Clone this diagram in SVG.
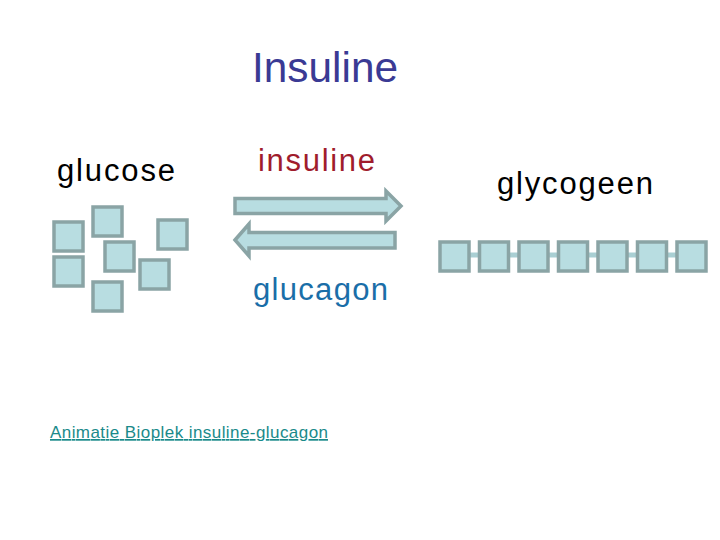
<svg xmlns="http://www.w3.org/2000/svg" width="720" height="540" viewBox="0 0 720 540">
<style>
text{font-family:"Liberation Sans",Arial,sans-serif}
.sq{fill:#b8dde1;stroke:#8aa4a5;stroke-width:3.5}
.arr{fill:#b8dde1;stroke:#8aa4a5;stroke-width:3.5;stroke-linejoin:miter}
.lbl{font-size:31px;fill:#000}
</style>
<defs>
<rect id="s" class="sq" width="29" height="29"/>
</defs>
<rect width="720" height="540" fill="#fff"/>
<g id="title"><text x="252" y="82" font-size="42" fill="#3a3a94" textLength="146" lengthAdjust="spacingAndGlyphs">Insuline</text></g>
<g id="glucose">
<text class="lbl" x="57" y="181" textLength="118" lengthAdjust="spacing">glucose</text>
<use href="#s" x="54" y="222"/>
<use href="#s" x="93" y="207"/>
<use href="#s" x="158" y="220"/>
<use href="#s" x="105" y="242"/>
<use href="#s" x="54" y="257"/>
<use href="#s" x="140" y="260"/>
<use href="#s" x="93" y="282"/>
</g>
<g id="connectors">
<polygon class="arr" points="235,198.5 386,198.5 386,191 401,206 386,221 386,213.5 235,213.5"/>
<polygon class="arr" points="235,240 249,224 249,232.5 395,232.5 395,248 249,248 249,256"/>
<text x="258" y="171" font-size="31" fill="#a01c2c" textLength="117" lengthAdjust="spacing">insuline</text>
<text x="253" y="300" font-size="31" fill="#1a6ea8" textLength="135" lengthAdjust="spacing">glucagon</text>
</g>
<g id="glycogeen">
<text class="lbl" x="497" y="194" textLength="156" lengthAdjust="spacing">glycogeen</text>
<rect x="440" y="252.5" width="265" height="5" fill="#a9cfd3"/>
<use href="#s" x="440" y="242"/>
<use href="#s" x="479.5" y="242"/>
<use href="#s" x="519" y="242"/>
<use href="#s" x="558.5" y="242"/>
<use href="#s" x="598" y="242"/>
<use href="#s" x="637.5" y="242"/>
<use href="#s" x="677" y="242"/>
</g>
<g id="link">
<text x="50" y="438" font-size="17" fill="#1a8a8a" text-decoration="underline" textLength="278" lengthAdjust="spacing">Animatie Bioplek insuline-glucagon</text>
</g>
</svg>
